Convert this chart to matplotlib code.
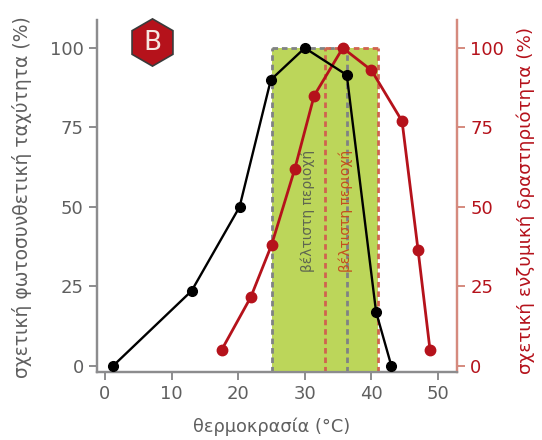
#!/usr/bin/env python3
import matplotlib
matplotlib.use("Agg")
import matplotlib.pyplot as plt

W, H = 542, 440

# black curve: photosynthesis rate
temp_photo = [1.2, 13.0, 20.2, 24.9, 30.0, 36.3, 40.7, 43.0]
rate_photo = [0, 23.6, 50, 90, 100, 91.5, 17, 0]

# red curve: enzyme activity
temp_enzyme = [17.5, 21.9, 25.0, 28.5, 31.4, 35.7, 40.0, 44.6, 47.0, 48.8]
rate_enzyme = [5, 21.7, 38, 62, 85, 100, 93, 77, 36.5, 5]

x_ticks = [0, 10, 20, 30, 40, 50]
y_ticks = [0, 25, 50, 75, 100]

# optimum ranges
photo_range = (25, 36.3)
enzyme_range = (33, 41)

GREY = "#5f5f5f"
SPINE = "#8c8c8e"
RED = "#b5121b"
RED_SPINE = "#d58a7e"
GREEN = "#bcd65a"
DASH = (0, (2, 1.4))

fig = plt.figure(figsize=(W / 100, H / 100), dpi=100)
ax = fig.add_axes([97 / W, 1 - 372 / H, (457 - 97) / W, (372 - 20) / H])
ax2 = ax.twinx()
ax.set_xlim(-1.2, 52.85)
ax.set_ylim(-1.9, 108.8)
ax2.set_ylim(-1.9, 108.8)
ax.set_zorder(ax2.get_zorder() + 1)
ax.patch.set_visible(False)

# green box with the dashed borders of both ranges
ax.fill_between([25, 41], -1.9, 100, color=GREEN, lw=0, zorder=1)
for x in photo_range:
    ax.plot([x, x], [-1.9, 100], color="#808284", ls=DASH, lw=2, zorder=2)
ax.plot(photo_range, [100, 100], color="#808284", ls=DASH, lw=2, zorder=2)
for x in enzyme_range:
    ax.plot([x, x], [-1.9, 100], color="#d0634f", ls=DASH, lw=2, zorder=2)
ax.plot(enzyme_range, [100, 100], color="#d0634f", ls=DASH, lw=2, zorder=2)

ax.text(30.5, 29.7, "βέλτιστη περιοχή", rotation=90, color="#5f6650", fontsize=10,
        ha="center", va="bottom", zorder=3)
ax.text(36.2, 29.7, "βέλτιστη περιοχή", rotation=90, color="#c4501f", fontsize=10,
        ha="center", va="bottom", zorder=3)

ax.plot(temp_photo, rate_photo, color="black", lw=1.7, marker="o", ms=7, zorder=5)
ax.plot(temp_enzyme, rate_enzyme, color=RED, lw=2, marker="o", ms=7.5, zorder=4)

ax.set_xticks(x_ticks)
ax.set_yticks(y_ticks)
ax.tick_params(axis="both", colors=SPINE, labelcolor=GREY, labelsize=13, width=1.4, length=6)
ax.set_xlabel("θερμοκρασία (°C)", color=GREY, fontsize=12.8)
ax.xaxis.set_label_coords((272 - 97) / 360, -(427 - 372) / 352, transform=ax.transAxes)
ax.xaxis.label.set_va("center")
ax.set_ylabel("σχετική φωτοσυνθετική ταχύτητα (%)", color=GREY, fontsize=13.5)
ax.yaxis.set_label_coords(-(97 - 22) / 360, (372 - 197) / 352, transform=ax.transAxes)
ax.yaxis.label.set_va("center")

ax2.set_yticks(y_ticks)
ax2.tick_params(axis="y", colors=RED_SPINE, labelcolor=RED, labelsize=13, width=1.4, length=6)
ax2.set_ylabel("σχετική ενζυμική δραστηριότητα (%)", color=RED, fontsize=13.2)
ax2.yaxis.set_label_coords((526 - 97) / 360, (372 - 200) / 352, transform=ax2.transAxes)
ax2.yaxis.label.set_va("center")

for a in (ax, ax2):
    a.spines["top"].set_visible(False)
    a.spines["left"].set_color(SPINE)
    a.spines["bottom"].set_color(SPINE)
    a.spines["right"].set_color(RED_SPINE)
    for s in a.spines.values():
        s.set_linewidth(1.6)

# panel badge
badge = dict(transform=fig.transFigure, clip_on=False)
ax.plot([152 / W], [1 - 42 / H], marker="h", ms=34, mfc=RED, mec="#3a3a3a", mew=1.2, zorder=6, **badge)
fig.text(152 / W, 1 - 42.5 / H, "B", color="#f6e6e0", fontsize=19, ha="center", va="center", zorder=7)

fig.savefig("out.png", dpi=100)
